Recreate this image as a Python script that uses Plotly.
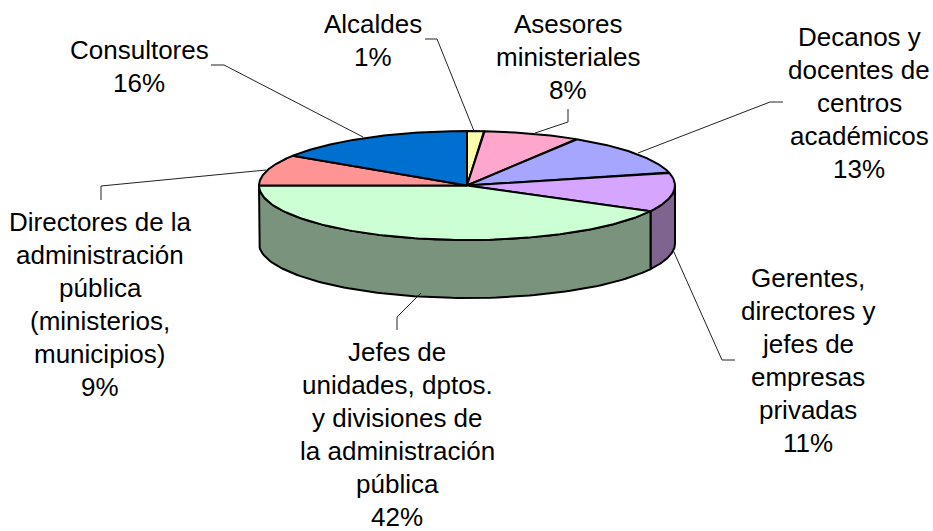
import numpy as np
import plotly.graph_objects as go

categories = ["Alcaldes", "Asesores ministeriales", "Decanos y docentes de centros académicos",
              "Gerentes, directores y jefes de empresas privadas",
              "Jefes de unidades, dptos. y divisiones de la administración pública",
              "Directores de la administración pública (ministerios, municipios)", "Consultores"]
values = [1.3, 7.5, 12.4, 11.6, 42.2, 9.2, 15.8]
percent_labels = ["1%", "8%", "13%", "11%", "42%", "9%", "16%"]
label_lines = [
    ["Alcaldes"],
    ["Asesores", "ministeriales"],
    ["Decanos y", "docentes de", "centros", "académicos"],
    ["Gerentes,", "directores y", "jefes de", "empresas", "privadas"],
    ["Jefes de", "unidades, dptos.", "y divisiones de", "la administración", "pública"],
    ["Directores de la", "administración", "pública", "(ministerios,", "municipios)"],
    ["Consultores"],
]
top_colors = ["#FFFFAA", "#FFA6CC", "#A6A6FF", "#D6A6FF", "#CCFFD4", "#FF9494", "#0070D0"]
side_colors = ["#999966", "#99637A", "#636399", "#7F6490", "#79937C", "#995959", "#004380"]

# Layout of the drawing, in page pixels
CX, CY, RX, RY, DEPTH = 467, 185.5, 208, 54.5, 58
LABEL_ANCHORS = [(373, 24), (568, 24), (859, 37), (808, 278), (397, 352), (100, 222), (139, 50)]
LINE_STEP = 33
LEADERS = [
    [(474, 131), (437, 39), (425, 39)],
    [(535, 133), (568, 122), (568, 109)],
    [(638, 153), (770, 102), (783, 102)],
    [(673, 250), (722, 360), (735, 360)],
    [(421, 293), (397, 317), (397, 330)],
    [(266, 170), (101, 186), (101, 200)],
    [(363, 137), (224, 65), (211, 65)],
]

shares = np.array(values) / sum(values)
edges = np.concatenate([[0], np.cumsum(shares)]) * 2 * np.pi


def rim(t, dz=0):
    return CX + RX * np.sin(t), CY - RY * np.cos(t) + dz


fig = go.Figure()
OUT = dict(color="#000000", width=2)

# Rim walls: only the front half of the cylinder is visible
for i in range(len(values)):
    a, b = max(edges[i], np.pi / 2), min(edges[i + 1], 3 * np.pi / 2)
    if b <= a:
        continue
    t = np.linspace(a, b, 100)
    xt, yt = rim(t)
    xb, yb = rim(t[::-1], DEPTH)
    fig.add_trace(go.Scatter(x=np.r_[xt, xb, xt[0]], y=np.r_[yt, yb, yt[0]], mode="lines",
                             fill="toself", fillcolor=side_colors[i], line=OUT,
                             hoverinfo="skip", showlegend=False))

# Top faces
for i, name in enumerate(categories):
    t = np.linspace(edges[i], edges[i + 1], 160)
    xt, yt = rim(t)
    fig.add_trace(go.Scatter(x=np.r_[CX, xt, CX], y=np.r_[CY, yt, CY], mode="lines", name=name,
                             fill="toself", fillcolor=top_colors[i], line=OUT,
                             hoverinfo="name", showlegend=False))

shapes = []
for pts in LEADERS:
    path = "M " + " L ".join(f"{x},{y}" for x, y in pts)
    shapes.append(dict(type="path", path=path, line=dict(color="#222222", width=1), layer="above"))

annotations = []
for lines, pct, (ax, ay) in zip(label_lines, percent_labels, LABEL_ANCHORS):
    for k, text in enumerate(lines + [pct]):
        annotations.append(dict(x=ax, y=ay + k * LINE_STEP, text=text, showarrow=False,
                                xanchor="center", yanchor="middle", xref="x", yref="y",
                                font=dict(family="Liberation Sans", size=26, color="#000000")))

fig.update_layout(
    width=933, height=531, margin=dict(l=0, r=0, t=0, b=0),
    paper_bgcolor="white", plot_bgcolor="white", showlegend=False,
    xaxis=dict(range=[0, 933], visible=False, fixedrange=True),
    yaxis=dict(range=[531, 0], visible=False, fixedrange=True),
    shapes=shapes, annotations=annotations,
)
fig.write_html("out.html", config=dict(displayModeBar=False),
               post_script="document.body.style.margin='0';document.documentElement.style.overflow='hidden';")
